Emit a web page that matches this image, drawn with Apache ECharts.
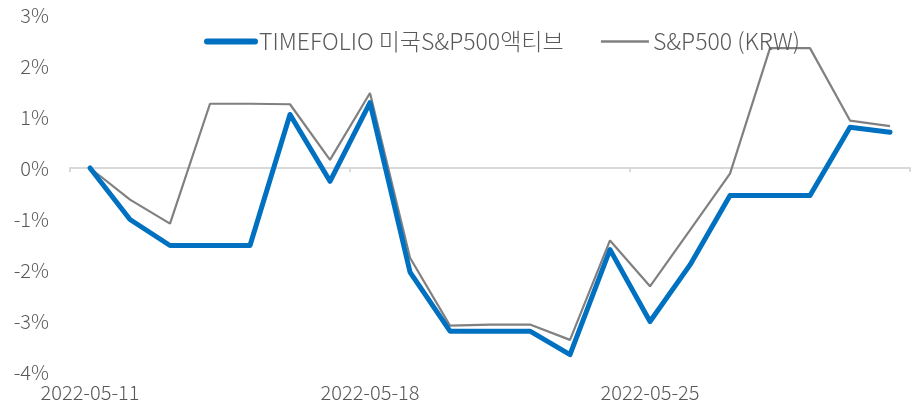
<!DOCTYPE html>
<html>
<head>
<meta charset="utf-8">
<script src="https://cdn.jsdelivr.net/npm/echarts@6/dist/echarts.min.js"></script>
<style>
  html, body { margin: 0; padding: 0; background: #fff; }
  #chart { width: 914px; height: 408px; }
</style>
</head>
<body>
<div id="chart"></div>
<script>
// 날짜 (일별)
var dates = [
  '2022-05-11', '2022-05-12', '2022-05-13', '2022-05-14', '2022-05-15', '2022-05-16', '2022-05-17',
  '2022-05-18', '2022-05-19', '2022-05-20', '2022-05-21', '2022-05-22', '2022-05-23', '2022-05-24',
  '2022-05-25', '2022-05-26', '2022-05-27', '2022-05-28', '2022-05-29', '2022-05-30', '2022-05-31'
];

// 누적 수익률 (%)
var timefolio = [0, -1.01, -1.52, -1.52, -1.52, 1.05, -0.26, 1.28, -2.04, -3.2, -3.2,
  -3.2, -3.66, -1.6, -3.01, -1.9, -0.54, -0.54, -0.54, 0.8, 0.7];
var sp500 = [0, -0.62, -1.09, 1.26, 1.26, 1.25, 0.16, 1.47, -1.76, -3.09, -3.07,
  -3.07, -3.37, -1.42, -2.32, -1.22, -0.11, 2.35, 2.35, 0.93, 0.82];

var names = ['TIMEFOLIO 미국S&P500액티브', 'S&P500 (KRW)'];

var font = '"Noto Sans CJK KR", "Noto Sans", sans-serif';
var textColor = '#595959';

var myChart = echarts.init(document.getElementById('chart'));

var option = {
  backgroundColor: '#fff',
  animation: false,
  textStyle: { fontFamily: font },
  legend: {
    top: 25,
    left: 199,
    itemWidth: 48,
    itemHeight: 14,
    itemGap: 36,
    // 범례 아이콘의 동그라미 숨김 (선만 표시)
    itemStyle: { color: 'rgba(0,0,0,0)', borderWidth: 0, opacity: 0 },
    textStyle: { color: textColor, fontSize: 23, fontWeight: 300, fontFamily: font, padding: [0, 0, 0, -1] },
    data: [
      { name: names[0], lineStyle: { width: 6, cap: 'round' } },
      { name: names[1], lineStyle: { width: 2.5 } }
    ]
  },
  grid: { left: 70, right: 4, top: 15, bottom: 36, containLabel: false },
  xAxis: [
    {
      // 날짜 라벨 (아래)
      type: 'category',
      data: dates,
      boundaryGap: true,
      position: 'bottom',
      axisLine: { show: false, onZero: false },
      axisTick: { show: false },
      axisLabel: {
        interval: 6,
        color: textColor,
        fontSize: 20,
        fontWeight: 300,
        fontFamily: font,
        margin: 10
      },
      splitLine: { show: false }
    },
    {
      // 0% 기준선 + 눈금
      type: 'category',
      data: dates,
      boundaryGap: true,
      position: 'bottom',
      axisLine: { show: true, onZero: true, lineStyle: { color: '#d9d9d9', width: 2 } },
      axisTick: { show: true, interval: 6, length: 4, lineStyle: { color: '#d9d9d9', width: 2 } },
      axisLabel: { show: false },
      splitLine: { show: false }
    }
  ],
  yAxis: {
    type: 'value',
    min: -4,
    max: 3,
    interval: 1,
    axisLine: { show: false },
    axisTick: { show: false },
    splitLine: { show: false },
    axisLabel: {
      color: textColor,
      fontSize: 20,
      fontWeight: 300,
      fontFamily: font,
      margin: 21,
      formatter: function (v) { return v + '%'; }
    }
  },
  series: [
    {
      name: names[0],
      type: 'line',
      data: timefolio,
      symbol: 'none',
      z: 3,
      lineStyle: { color: '#0070C0', width: 5, cap: 'round', join: 'round' },
      itemStyle: { color: '#0070C0' }
    },
    {
      name: names[1],
      type: 'line',
      data: sp500,
      symbol: 'none',
      z: 2,
      lineStyle: { color: '#808080', width: 2.2 },
      itemStyle: { color: '#808080' }
    }
  ]
};

myChart.setOption(option);
</script>
</body>
</html>
